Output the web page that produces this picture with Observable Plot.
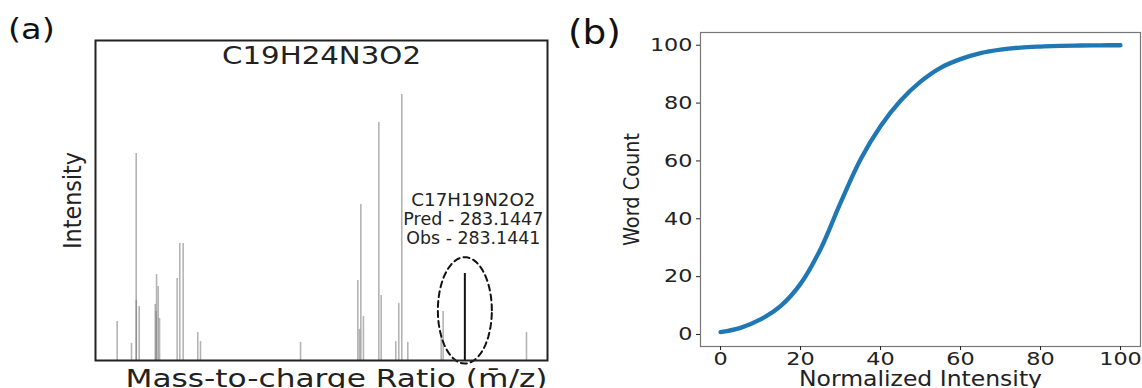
<!DOCTYPE html>
<html>
<head>
<meta charset="utf-8">
<script src="https://cdn.jsdelivr.net/npm/d3@7"></script>
<script src="https://cdn.jsdelivr.net/npm/@observablehq/plot@0.6"></script>
<style>
  html, body { margin: 0; padding: 0; background: #fff; }
  #wrap { position: relative; width: 1142px; height: 388px; overflow: hidden; background: #fff; }
  #pa { position: absolute; left: 0; top: 0; }
  #pb { position: absolute; left: 560px; top: 0; }
  .lab { position: absolute; font-family: "DejaVu Sans", sans-serif; color: #111; transform-origin: left top; }
</style>
</head>
<body>
<div id="wrap">
  <div id="pa"></div>
  <div id="pb"></div>
  <div class="lab" style="left:8px;top:16px;font-size:28px;line-height:28px;transform:scaleX(1.2)">(a)</div>
  <div class="lab" style="left:568px;top:15px;font-size:34px;line-height:34px;transform:scaleX(1.1)">(b)</div>
</div>
<script>
// ---- Panel (a): mass spectrum ----
const formula = "C19H24N3O2";
const peakMz = [16.6, 27.6, 31.2, 31.3, 33.5, 45.8, 46.6, 46.8, 48.1, 49.1, 62.6, 64.6, 67.2, 78.4, 80.5,
                157.2, 201.1, 202.4, 203.4, 205.4, 217.2, 219.0, 230.2, 232.5, 234.8, 239.4, 265.0, 266.5, 330.4];
const peakIntensity = [14.7, 6.4, 77.8, 22.6, 20.3, 21.1, 18.4, 32.3, 27.8, 15.8, 30.8, 44.0, 44.0, 10.5, 7.1,
                       6.8, 30.1, 11.7, 58.6, 16.5, 89.5, 24.4, 7.1, 21.4, 100, 6.8, 8.6, 18.4, 10.5];
const annotatedFormula = "C17H19N2O2";
const annotatedPred = "283.1447";
const annotatedObs = 283.1441;
const annotatedIntensity = 32.7;
const xLabelA = "Mass-to-charge Ratio (m\u0304/z)";
const yLabelA = "Intensity";

// ---- Panel (b): cumulative curve ----
const normIntensity = [0, 5, 10, 15, 20, 25, 30, 35, 40, 45, 50, 55, 60, 65, 70, 75, 80, 85, 90, 95, 100];
const wordCount = [0.8, 2.3, 5.2, 9.8, 17.5, 29.5, 45.5, 60.5, 72.0, 80.8, 87.4, 92.2, 95.2, 97.3, 98.5, 99.2, 99.55, 99.78, 99.9, 99.97, 100];
const xTicksB = [0, 20, 40, 60, 80, 100];
const yTicksB = [0, 20, 40, 60, 80, 100];
const xLabelB = "Normalized Intensity";
const yLabelB = "Word Count";

const peaks = peakMz.map((m, i) => ({mz: m, intensity: peakIntensity[i]}));
const annotLines = [annotatedFormula, `Pred - ${annotatedPred}`, `Obs - ${annotatedObs.toFixed(4)}`];
const annot = [{mz: annotatedObs, intensity: annotatedIntensity, label: annotLines.join("\n")}];

// dashed ellipse around the annotated peak (in data units)
const ell = {cy: 18.85, rx: 20.7, ry: 20.0};
const ellipsePts = d3.range(0, 73).map(k => {
  const t = (k / 72) * 2 * Math.PI;
  return {x: annotatedObs + ell.rx * Math.cos(t), y: ell.cy + ell.ry * Math.sin(t)};
});

const sansWide = "DejaVu Sans, sans-serif";
const sansCond = "DejaVu Sans Condensed, DejaVu Sans, sans-serif";

const plotA = Plot.plot({
  width: 560, height: 388,
  marginLeft: 95, marginRight: 13, marginTop: 40, marginBottom: 28,
  style: {fontFamily: sansWide, background: "white", overflow: "visible"},
  x: {domain: [0, 346.5], axis: null},
  y: {domain: [0, 120.3], axis: null},
  marks: [
    Plot.ruleX(peaks, {x: "mz", y1: 0, y2: "intensity", stroke: "#777", strokeOpacity: 0.55, strokeWidth: 1.6}),
    Plot.ruleX(annot, {x: "mz", y1: 0, y2: "intensity", stroke: "#111", strokeWidth: 2}),
    Plot.line(ellipsePts, {x: "x", y: "y", curve: "linear-closed", stroke: "#111", strokeWidth: 2, strokeDasharray: "6,4"}),
    Plot.text(annot, {x: "mz", y: "intensity", text: "label", dx: 8.5, dy: -81, lineAnchor: "top", lineHeight: 1.12,
      fontSize: 17, fill: "#222", textAnchor: "middle"}),
    Plot.text([formula], {text: d => d, frameAnchor: "top", dy: 5.5, lineAnchor: "top", fontSize: 25, fill: "#222"}),
    Plot.text([yLabelA], {text: d => d, frameAnchor: "left", textAnchor: "middle", rotate: -90, dx: -22.5, fontSize: 24.8, fontFamily: sansCond, fill: "#222"}),
    Plot.text([xLabelA], {text: d => d, frameAnchor: "bottom", dx: 15, dy: 9.5, lineAnchor: "top", fontSize: 24, fill: "#222"}),
    Plot.frame({stroke: "#222", strokeWidth: 2})
  ]
});
document.getElementById("pa").appendChild(plotA);

const curveData = normIntensity.map((x, i) => ({x, y: wordCount[i]}));

const plotB = Plot.plot({
  width: 582, height: 388,
  marginLeft: 140, marginRight: 2, marginTop: 32, marginBottom: 42,
  style: {fontFamily: sansWide, fontSize: "18px", background: "white", overflow: "visible", color: "#222"},
  x: {domain: [-5, 105]},
  y: {domain: [-4.15, 104.4]},
  marks: [
    Plot.frame({stroke: "#777", strokeWidth: 1.2}),
    Plot.axisX({ticks: xTicksB, tickSize: 4, tickPadding: 2, label: null, fontSize: 18}),
    Plot.axisY({ticks: yTicksB, tickSize: 4, tickPadding: 4, label: null, fontSize: 18}),
    Plot.line(curveData, {x: "x", y: "y", stroke: "#1f77b4", strokeWidth: 4.3, curve: "catmull-rom"}),
    Plot.text([yLabelB], {text: d => d, frameAnchor: "left", textAnchor: "middle", rotate: -90, dx: -68.4, fontSize: 21.5, fontFamily: sansCond, fill: "#222"}),
    Plot.text([xLabelB], {text: d => d, frameAnchor: "bottom", dy: 25, lineAnchor: "top", fontSize: 20.5, fill: "#222"})
  ]
});
document.getElementById("pb").appendChild(plotB);

// widen text horizontally (the reference figure is stretched sideways)
function stretchEl(el, target) {
  el.setAttribute("textLength", target);
  el.setAttribute("lengthAdjust", "spacingAndGlyphs");
}
function textsOf(svg, pred) {
  return Array.from(svg.querySelectorAll("text")).filter(t => pred(t.textContent));
}
textsOf(plotA, s => s === formula).forEach(t => stretchEl(t, 199));
textsOf(plotA, s => s === xLabelA).forEach(t => stretchEl(t, 422));
textsOf(plotA, s => s.startsWith(annotatedFormula)).forEach(t => {
  const widths = [124, 140, 134];
  const spans = t.querySelectorAll("tspan");
  if (spans.length) spans.forEach((sp, i) => stretchEl(sp, widths[i]));
});
textsOf(plotB, s => s === xLabelB).forEach(t => stretchEl(t, 243));
textsOf(plotB, s => /^\d+$/.test(s)).forEach(t => stretchEl(t, t.getComputedTextLength() * 1.24));
</script>
</body>
</html>
